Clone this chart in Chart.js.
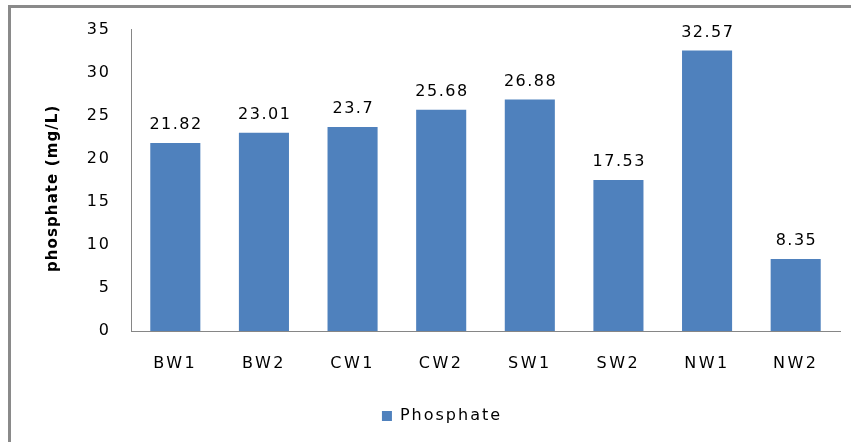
<!DOCTYPE html>
<html>
<head>
<meta charset="utf-8">
<script src="https://cdn.jsdelivr.net/npm/chart.js@4/dist/chart.umd.min.js"></script>
<style>
html,body{margin:0;padding:0;background:#fff;}
#wrap{width:851px;height:442px;position:relative;}
</style>
</head>
<body>
<div id="wrap"><canvas id="c" width="851" height="442"></canvas></div>
<script>
const categories = ["BW1","BW2","CW1","CW2","SW1","SW2","NW1","NW2"];
const phosphate = [21.82, 23.01, 23.7, 25.68, 26.88, 17.53, 32.57, 8.35];
const valueLabels = ["21.82","23.01","23.7","25.68","26.88","17.53","32.57","8.35"];
const seriesName = "Phosphate";
const yTitle = "phosphate (mg/L)";

const FONT = "'DejaVu Sans', Verdana, sans-serif";

function withSpacing(fn, spacing, dx) {
  return function(...args) {
    const ctx = this.ctx;
    ctx.save();
    if (dx) ctx.translate(dx, 0);
    ctx.letterSpacing = spacing;
    const r = fn.apply(this, args);
    ctx.restore();
    return r;
  };
}

const spacingPatch = {
  id: 'spacingPatch',
  afterLayout(chart) {
    const x = chart.scales.x, y = chart.scales.y;
    if (!x._patched) { x.drawLabels = withSpacing(Object.getPrototypeOf(x).drawLabels, '2.5px'); x._patched = true; }
    if (!y._patched) { y.drawLabels = withSpacing(Object.getPrototypeOf(y).drawLabels, '2px'); y._patched = true; }
    const lg = chart.legend;
    if (lg && !lg._patched) { lg.draw = withSpacing(Object.getPrototypeOf(lg).draw, '2px', 13); lg._patched = true; }
  }
};

const frame = {
  id: 'frame',
  beforeDraw(chart) {
    const ctx = chart.ctx;
    ctx.save();
    ctx.fillStyle = '#fff';
    ctx.fillRect(0, 0, chart.width, chart.height);
    ctx.strokeStyle = '#8a8a8a';
    ctx.lineWidth = 3;
    ctx.beginPath();
    ctx.moveTo(9.5, 442);
    ctx.lineTo(9.5, 6.5);
    ctx.lineTo(851, 6.5);
    ctx.stroke();
    ctx.restore();
  },
  afterDraw(chart) {
    const ctx = chart.ctx;
    const area = chart.chartArea;
    ctx.save();
    ctx.letterSpacing = '1.1px';
    ctx.font = "bold 15px " + FONT;
    ctx.fillStyle = '#000';
    ctx.textAlign = 'center';
    ctx.textBaseline = 'middle';
    ctx.translate(53, (area.top + area.bottom) / 2 + 8);
    ctx.rotate(-Math.PI / 2);
    ctx.fillText(yTitle, 0, 0);
    ctx.restore();
  }
};

const barLabels = {
  id: 'barLabels',
  afterDatasetsDraw(chart) {
    const ctx = chart.ctx;
    const meta = chart.getDatasetMeta(0);
    ctx.save();
    ctx.letterSpacing = '1.5px';
    ctx.font = "16px " + FONT;
    ctx.fillStyle = '#000';
    ctx.textAlign = 'center';
    ctx.textBaseline = 'alphabetic';
    meta.data.forEach((bar, i) => {
      ctx.fillText(valueLabels[i], bar.x + 0.75, bar.y - 14);
    });
    ctx.restore();
  }
};

new Chart(document.getElementById('c'), {
  type: 'bar',
  data: {
    labels: categories,
    datasets: [{
      label: seriesName,
      data: phosphate,
      backgroundColor: '#4F81BD',
      borderWidth: 0,
      categoryPercentage: 1,
      barPercentage: 0.565
    }]
  },
  options: {
    responsive: false,
    animation: false,
    events: [],
    layout: { padding: { left: 0, top: 27, right: 11, bottom: 8 } },
    plugins: {
      tooltip: { enabled: false },
      legend: {
        position: 'bottom',
        labels: {
          font: { family: FONT, size: 16 },
          color: '#000',
          boxWidth: 10,
          boxHeight: 10,
          padding: 10
        }
      }
    },
    scales: {
      x: {
        grid: { display: false, drawTicks: false },
        border: { display: true, color: '#868686', width: 1 },
        ticks: { font: { family: FONT, size: 16 }, color: '#000', padding: 23 },
        afterFit(s) { s.height = 67; }
      },
      y: {
        min: 0, max: 35,
        grid: { display: false, drawTicks: false },
        border: { display: true, color: '#868686', width: 1 },
        ticks: { stepSize: 5, font: { family: FONT, size: 16 }, color: '#000', padding: 20 },
        title: { display: false },
        afterFit(s) { s.width = 131; }
      }
    }
  },
  plugins: [spacingPatch, frame, barLabels]
});
</script>
</body>
</html>
